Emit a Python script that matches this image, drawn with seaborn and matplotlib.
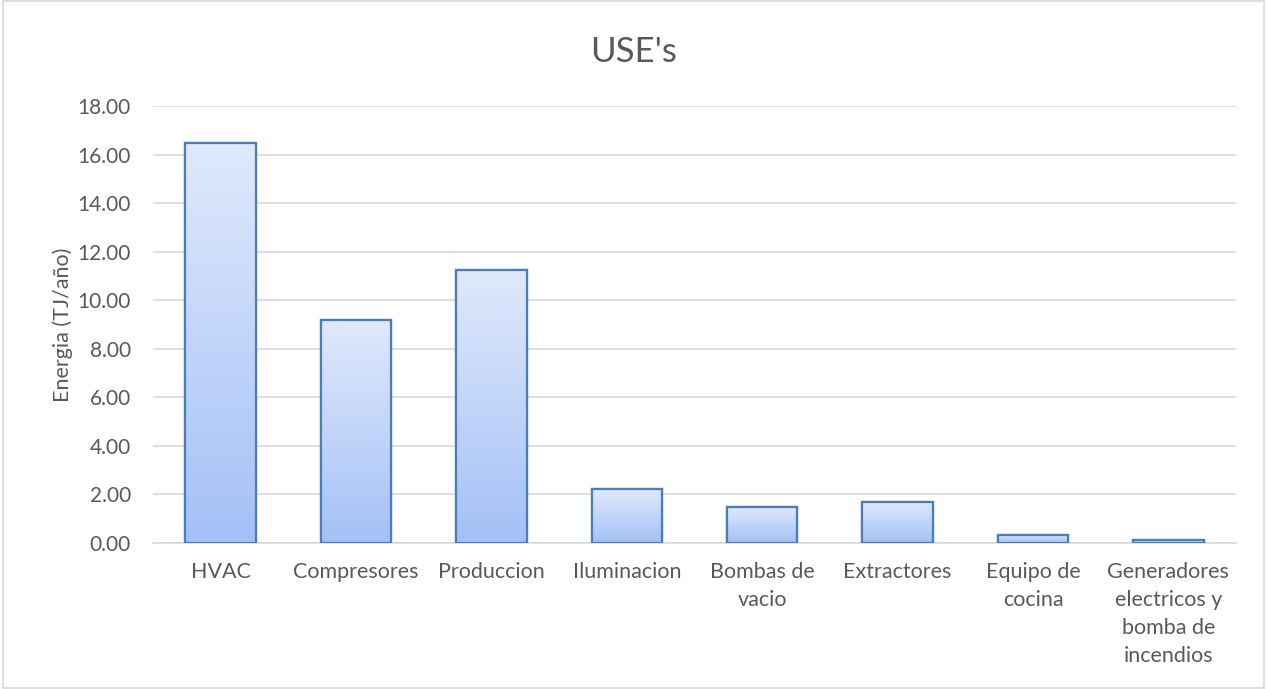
import numpy as np
import pandas as pd
import matplotlib
matplotlib.use("Agg")
import matplotlib.pyplot as plt
import seaborn as sns
from matplotlib.patches import Rectangle

categorias = ["HVAC", "Compresores", "Produccion", "Iluminacion", "Bombas de\nvacio",
              "Extractores", "Equipo de\ncocina",
              "Generadores\nelectricos y\nbomba de\nincendios"]
energia = [16.48, 9.18, 11.24, 2.22, 1.50, 1.70, 0.33, 0.12]
ticks_y = [0, 2, 4, 6, 8, 10, 12, 14, 16, 18]

sns.set_theme(style="white")
plt.rcParams["font.family"] = ["Lato", "DejaVu Sans"]

df = pd.DataFrame({"categoria": categorias, "energia": energia})

fig = plt.figure(figsize=(12.67, 6.89), dpi=100)
ax = fig.add_axes([153 / 1267, 1 - 543 / 689, (1236 - 153) / 1267, (543 - 106) / 689])

sns.barplot(data=df, x="categoria", y="energia", ax=ax, width=0.52,
            color="#c5d8fa", edgecolor="#4a7ebb", linewidth=1.6, zorder=3)

# vertical gradient fill inside each bar: pale at the top, deeper blue at the bottom
grad = np.linspace(0, 1, 256).reshape(-1, 1)
cmap = matplotlib.colors.LinearSegmentedColormap.from_list("bar", ["#e0e9fc", "#a3c1f6"])
for p in list(ax.patches):
    x0, y0 = p.get_x(), p.get_y()
    w, h = p.get_width(), p.get_height()
    im = ax.imshow(grad, cmap=cmap, aspect="auto", origin="upper",
                   extent=[x0, x0 + w, y0, y0 + h], zorder=3.5, interpolation="bilinear")
    im.set_clip_path(p)
    ax.add_patch(Rectangle((x0, y0), w, h, fill=False, edgecolor="#4a7ebb",
                           linewidth=1.6, zorder=4))

ax.set_xlim(-0.5, len(categorias) - 0.5)
ax.set_ylim(0, 18)
ax.set_yticks(ticks_y)
ax.set_yticklabels([f"{t:.2f}" for t in ticks_y])
ax.yaxis.grid(True, color="#d9d9d9", linewidth=1.2, zorder=0)
ax.set_axisbelow(True)
for s in ["top", "right", "left"]:
    ax.spines[s].set_visible(False)
ax.spines["bottom"].set_color("#d9d9d9")
ax.spines["bottom"].set_linewidth(1.2)
ax.tick_params(axis="both", length=0, colors="#595959")
ax.tick_params(axis="x", labelsize=15.5, pad=14)
ax.tick_params(axis="y", labelsize=15, pad=16)
for lab in ax.get_xticklabels():
    lab.set_linespacing(1.5)
ax.set_xlabel("")
ax.set_ylabel("Energia (TJ/año)", color="#595959", fontsize=15.5, labelpad=3)

fig.text(0.5, 1 - 52 / 689, "USE's", color="#595959", fontsize=25,
         ha="center", va="center")

fig.add_artist(Rectangle((0.002, 0.002), 0.996, 0.996, transform=fig.transFigure,
                         fill=False, edgecolor="#d9d9d9", linewidth=1.2))

fig.savefig("out.png", dpi=100, facecolor="white")
